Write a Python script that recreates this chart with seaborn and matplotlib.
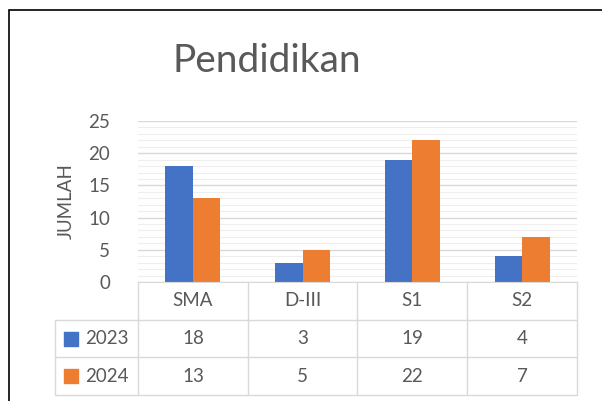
import pandas as pd
import seaborn as sns
import matplotlib.pyplot as plt
from matplotlib.patches import Rectangle

# data
categories = ["SMA", "D-III", "S1", "S2"]
years = ["2023", "2024"]
jumlah_2023 = [18, 3, 19, 4]
jumlah_2024 = [13, 5, 22, 7]
colors = ["#4472C4", "#ED7D31"]

grey_txt = "#595959"
grid_col = "#d9d9d9"

df = pd.DataFrame({
    "kategori": categories * 2,
    "tahun": [years[0]] * 4 + [years[1]] * 4,
    "jumlah": jumlah_2023 + jumlah_2024,
})

sns.set_style("white")
plt.rcParams["font.family"] = ["Lato", "DejaVu Sans"]

fig = plt.figure(figsize=(6.02, 4.01), dpi=100)

# outer chart frame (cut off at right/bottom like the screenshot)
fig.patches.append(Rectangle((9 / 602, -0.1), 1.2, (401 - 10) / 401 + 0.1,
                             transform=fig.transFigure, fill=False,
                             edgecolor="black", linewidth=1.2))

fig.text(267 / 602, (401 - 72) / 401, "Pendidikan", ha="center", va="baseline",
         fontsize=28, color=grey_txt)

left, width = 138 / 602, (577 - 138) / 602
ax = fig.add_axes([left, (401 - 282) / 401, width, (282 - 121) / 401])
sns.barplot(data=df, x="kategori", y="jumlah", hue="tahun", palette=colors,
            width=0.5, gap=0, saturation=1, linewidth=0, ax=ax, legend=False)
ax.set_xlim(-0.5, 3.5)
ax.set_ylim(0, 25)
ax.set_yticks(range(0, 26, 5))
ax.set_yticks(range(0, 26, 1), minor=True)
ax.grid(axis="y", which="major", color=grid_col, linewidth=1)
ax.grid(axis="y", which="minor", color="#eeeeee", linewidth=0.8)
ax.set_axisbelow(True)
for s in ["top", "right", "left"]:
    ax.spines[s].set_visible(False)
ax.spines["bottom"].set_color(grid_col)
ax.tick_params(axis="y", which="both", length=0, pad=20, labelsize=13.5, labelcolor=grey_txt)
ax.set_xticks([])
ax.set_xlabel("")
ax.set_ylabel("JUMLAH", fontsize=13.5, color=grey_txt, labelpad=10)

# data table below the plot
tab = fig.add_axes([left, (401 - 395) / 401, width, (395 - 282) / 401])
tab.set_xlim(-0.5, 3.5)
tab.set_ylim(3, 0)
tab.axis("off")
leg_x = -0.5 - (138 - 55) / 109.75
for y in [1, 2, 3]:
    tab.plot([leg_x, 3.5], [y, y], color=grid_col, lw=1, clip_on=False)
tab.plot([leg_x, leg_x], [1, 3], color=grid_col, lw=1, clip_on=False)
for xb in [-0.5, 0.5, 1.5, 2.5, 3.5]:
    tab.plot([xb, xb], [0, 3], color=grid_col, lw=1, clip_on=False)

for i, cat in enumerate(categories):
    tab.text(i, 0.5, cat, ha="center", va="center", fontsize=13.5, color=grey_txt)
for r, (yr, vals, c) in enumerate(zip(years, [jumlah_2023, jumlah_2024], colors)):
    yc = r + 1.5
    tab.scatter([leg_x + 0.15], [yc], marker="s", s=95, color=c, clip_on=False)
    tab.text(leg_x + 0.27, yc, yr, ha="left", va="center", fontsize=13.5, color=grey_txt)
    for i, v in enumerate(vals):
        tab.text(i, yc, str(v), ha="center", va="center", fontsize=13.5, color=grey_txt)

fig.savefig("out.png", dpi=100)
